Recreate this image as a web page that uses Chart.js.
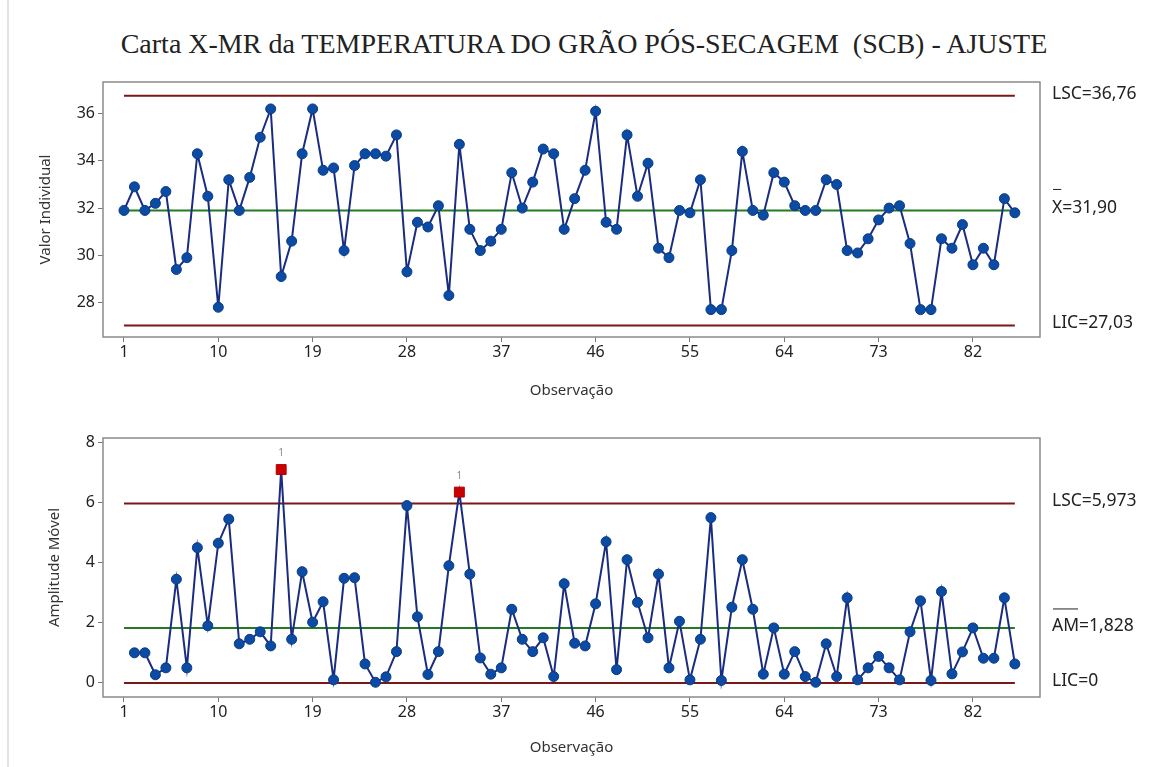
<!DOCTYPE html>
<html lang="pt">
<head>
    <meta charset="UTF-8">
    <script src="https://cdn.jsdelivr.net/npm/chart.js"></script>
    <style>
        body {
            margin: 0;
            background: #fff;
            width: 1153px;
            height: 767px;
            position: relative;
            overflow: hidden;
        }
        #titulo {
            position: absolute;
            left: 0;
            width: 1168px;
            top: 27px;
            line-height: 34px;
            text-align: center;
            font-family: "Liberation Serif", "DejaVu Serif", serif;
            font-size: 28px;
            color: #222;
        }
        #borda {
            position: absolute;
            left: 7px;
            top: 0;
            width: 2px;
            height: 767px;
            background: #e4e4e4;
        }
        canvas {
            position: absolute;
            left: 0;
        }
        #cartaX { top: 0; }
        #cartaMR { top: 400px; }
    </style>
    <title>Carta X-MR</title>
</head>
<body>
    <div id="borda"></div>
    <div id="titulo">Carta X-MR da TEMPERATURA DO GRÃO PÓS-SECAGEM&nbsp;&nbsp;(SCB) - AJUSTE</div>
    <canvas id="cartaX" width="1153" height="400"></canvas>
    <canvas id="cartaMR" width="1153" height="367"></canvas>
<script>
    const valorIndividual = [
        31.9, 32.9, 31.9, 32.2, 32.7, 29.4, 29.9, 34.3, 32.5, 27.8,
        33.2, 31.9, 33.3, 35.0, 36.2, 29.1, 30.6, 34.3, 36.2, 33.6,
        33.7, 30.2, 33.8, 34.3, 34.3, 34.2, 35.1, 29.3, 31.4, 31.2,
        32.1, 28.3, 34.7, 31.1, 30.2, 30.6, 31.1, 33.5, 32.0, 33.1,
        34.5, 34.3, 31.1, 32.4, 33.6, 36.1, 31.4, 31.1, 35.1, 32.5,
        33.9, 30.3, 29.9, 31.9, 31.8, 33.2, 27.7, 27.7, 30.2, 34.4,
        31.9, 31.7, 33.5, 33.1, 32.1, 31.9, 31.9, 33.2, 33.0, 30.2,
        30.1, 30.7, 31.5, 32.0, 32.1, 30.5, 27.7, 27.7, 30.7, 30.3,
        31.3, 29.6, 30.3, 29.6, 32.4, 31.8
    ];
    // amplitude movel (obs 2..86)
    const amplitudeMovel = [
        1.0, 1.0, 0.27, 0.5, 3.45, 0.5, 4.5, 1.9, 4.65,
        5.45, 1.3, 1.45, 1.7, 1.23, 7.1, 1.45, 3.7, 2.02, 2.7,
        0.1, 3.48, 3.5, 0.63, 0.02, 0.2, 1.04, 5.9, 2.2, 0.28,
        1.04, 3.9, 6.35, 3.62, 0.83, 0.29, 0.5, 2.45, 1.45, 1.04,
        1.5, 0.21, 3.3, 1.32, 1.23, 2.63, 4.7, 0.44, 4.1, 2.68,
        1.5, 3.62, 0.5, 2.05, 0.1, 1.45, 5.5, 0.08, 2.52, 4.1,
        2.45, 0.29, 1.83, 0.29, 1.04, 0.21, 0.02, 1.3, 0.21, 2.83,
        0.1, 0.5, 0.88, 0.5, 0.1, 1.7, 2.73, 0.08, 3.04, 0.3,
        1.03, 1.83, 0.82, 0.82, 2.83, 0.63
    ];
    const xTicks = [1, 10, 19, 28, 37, 46, 55, 64, 73, 82];
    const yTicksX = [28, 30, 32, 34, 36];
    const yTicksMR = [0, 2, 4, 6, 8];

    const limitesX = { lsc: 36.76, centro: 31.90, lic: 27.03 };
    const limitesMR = { lsc: 5.973, centro: 1.828, lic: 0 };
    const rotulosX = { lsc: 'LSC=36,76', centro: 'X=31,90', lic: 'LIC=27,03' };
    const rotulosMR = { lsc: 'LSC=5,973', centro: 'AM=1,828', lic: 'LIC=0' };

    const nObs = valorIndividual.length;
    const primeiraObs = 1;

    const corLinha = '#1a2c80';
    const corPonto = '#0b4ba3';
    const corLimite = '#7a1717';
    const corCentro = '#237a23';
    const fonte = '"Noto Sans", "Open Sans", sans-serif';

    function linhaHorizontal(valor, cor) {
        return {
            data: [{ x: primeiraObs, y: valor }, { x: nObs, y: valor }],
            borderColor: cor,
            borderWidth: 2,
            pointRadius: 0,
            order: 2
        };
    }

    // moldura + rotulos dos limites a direita
    const moldura = {
        id: 'moldura',
        afterDraw(chart, args, opts) {
            const c = chart.ctx;
            const a = chart.chartArea;
            const y = chart.scales.y;
            c.save();
            c.strokeStyle = '#8a8a8a';
            c.lineWidth = 1.5;
            c.strokeRect(a.left, a.top, a.right - a.left, a.bottom - a.top);

            c.font = '17.5px ' + fonte;
            c.fillStyle = '#222';
            c.textBaseline = 'middle';
            const tx = a.right + 12;
            for (const k of ['lsc', 'centro', 'lic']) {
                const py = y.getPixelForValue(opts.limites[k]) - 2;
                c.fillText(opts.rotulos[k], tx, py);
                if (k === 'centro') {
                    const w = c.measureText(opts.barra).width;
                    c.strokeStyle = '#222';
                    c.lineWidth = 1;
                    c.beginPath();
                    c.moveTo(tx + 1, py - opts.alturaBarra);
                    c.lineTo(tx + w - 1, py - opts.alturaBarra);
                    c.stroke();
                }
            }

            // marca "1" acima dos pontos fora de controle
            if (opts.marcar) {
                const meta = chart.getDatasetMeta(0);
                c.font = '10px ' + fonte;
                c.fillStyle = '#888';
                c.textAlign = 'center';
                meta.data.forEach((p, i) => {
                    const v = chart.data.datasets[0].data[i].y;
                    if (v > opts.limites.lsc) {
                        c.fillText('1', p.x, p.y - 16);
                    }
                });
            }
            c.restore();
        }
    };

    function opcoesEixos(min, max, yTicks, tituloY, padTituloY, alturaX, padTituloX) {
        return {
            x: {
                type: 'linear',
                min: -1,
                max: 88.4,
                afterBuildTicks: s => { s.ticks = xTicks.map(v => ({ value: v })); },
                afterFit: s => { s.height = alturaX; },
                grid: { drawOnChartArea: false, tickLength: 5, color: '#777', tickWidth: 1 },
                border: { display: false },
                ticks: { color: '#222', font: { family: fonte, size: 16 }, padding: 1, maxRotation: 0 },
                title: {
                    display: true, text: 'Observação', color: '#333',
                    font: { family: fonte, size: 15 }, padding: { top: 0, bottom: padTituloX }
                }
            },
            y: {
                min: min,
                max: max,
                afterBuildTicks: s => { s.ticks = yTicks.map(v => ({ value: v })); },
                afterFit: s => { s.width = 103; },
                grid: { drawOnChartArea: false, tickLength: 5, color: '#777', tickWidth: 1 },
                border: { display: false },
                ticks: { color: '#222', font: { family: fonte, size: 16 }, padding: 3 },
                title: {
                    display: true, text: tituloY, color: '#333',
                    font: { family: fonte, size: 15 }, padding: { top: padTituloY, bottom: 0 }
                }
            }
        };
    }

    new Chart(document.getElementById('cartaX'), {
        type: 'line',
        data: {
            datasets: [
                {
                    data: valorIndividual.map((v, i) => ({ x: primeiraObs + i, y: v })),
                    borderColor: corLinha,
                    borderWidth: 2,
                    pointRadius: 5,
                    pointBackgroundColor: corPonto,
                    pointBorderColor: '#0a3a85',
                    pointBorderWidth: 1,
                    order: 0
                },
                linhaHorizontal(limitesX.lsc, corLimite),
                linhaHorizontal(limitesX.centro, corCentro),
                linhaHorizontal(limitesX.lic, corLimite)
            ]
        },
        options: {
            responsive: false,
            animation: false,
            layout: { padding: { top: 82, right: 113, left: 0, bottom: 0 } },
            plugins: {
                legend: { display: false },
                tooltip: { enabled: false },
                moldura: { limites: limitesX, rotulos: rotulosX, barra: 'X', alturaBarra: 19, marcar: false }
            },
            scales: opcoesEixos(26.54, 37.34, yTicksX, 'Valor Individual', 37, 63, 0)
        },
        plugins: [moldura]
    });

    new Chart(document.getElementById('cartaMR'), {
        type: 'line',
        data: {
            datasets: [
                {
                    data: amplitudeMovel.map((v, i) => ({ x: primeiraObs + 1 + i, y: v })),
                    borderColor: corLinha,
                    borderWidth: 2,
                    pointStyle: ctx => amplitudeMovel[ctx.dataIndex] > limitesMR.lsc ? 'rect' : 'circle',
                    pointRadius: ctx => amplitudeMovel[ctx.dataIndex] > limitesMR.lsc ? 7 : 5,
                    pointBackgroundColor: ctx => amplitudeMovel[ctx.dataIndex] > limitesMR.lsc ? '#cc0000' : corPonto,
                    pointBorderColor: ctx => amplitudeMovel[ctx.dataIndex] > limitesMR.lsc ? '#b00000' : '#0a3a85',
                    pointBorderWidth: 1,
                    order: 0
                },
                linhaHorizontal(limitesMR.lsc, corLimite),
                linhaHorizontal(limitesMR.centro, corCentro),
                linhaHorizontal(limitesMR.lic, corLimite)
            ]
        },
        options: {
            responsive: false,
            animation: false,
            layout: { padding: { top: 38, right: 113, left: 0, bottom: 0 } },
            plugins: {
                legend: { display: false },
                tooltip: { enabled: false },
                moldura: { limites: limitesMR, rotulos: rotulosMR, barra: 'AM', alturaBarra: 17, marcar: true }
            },
            scales: opcoesEixos(-0.47, 8.15, yTicksMR, 'Amplitude Móvel', 46, 70, 10)
        },
        plugins: [moldura]
    });
</script>
</body>
</html>
